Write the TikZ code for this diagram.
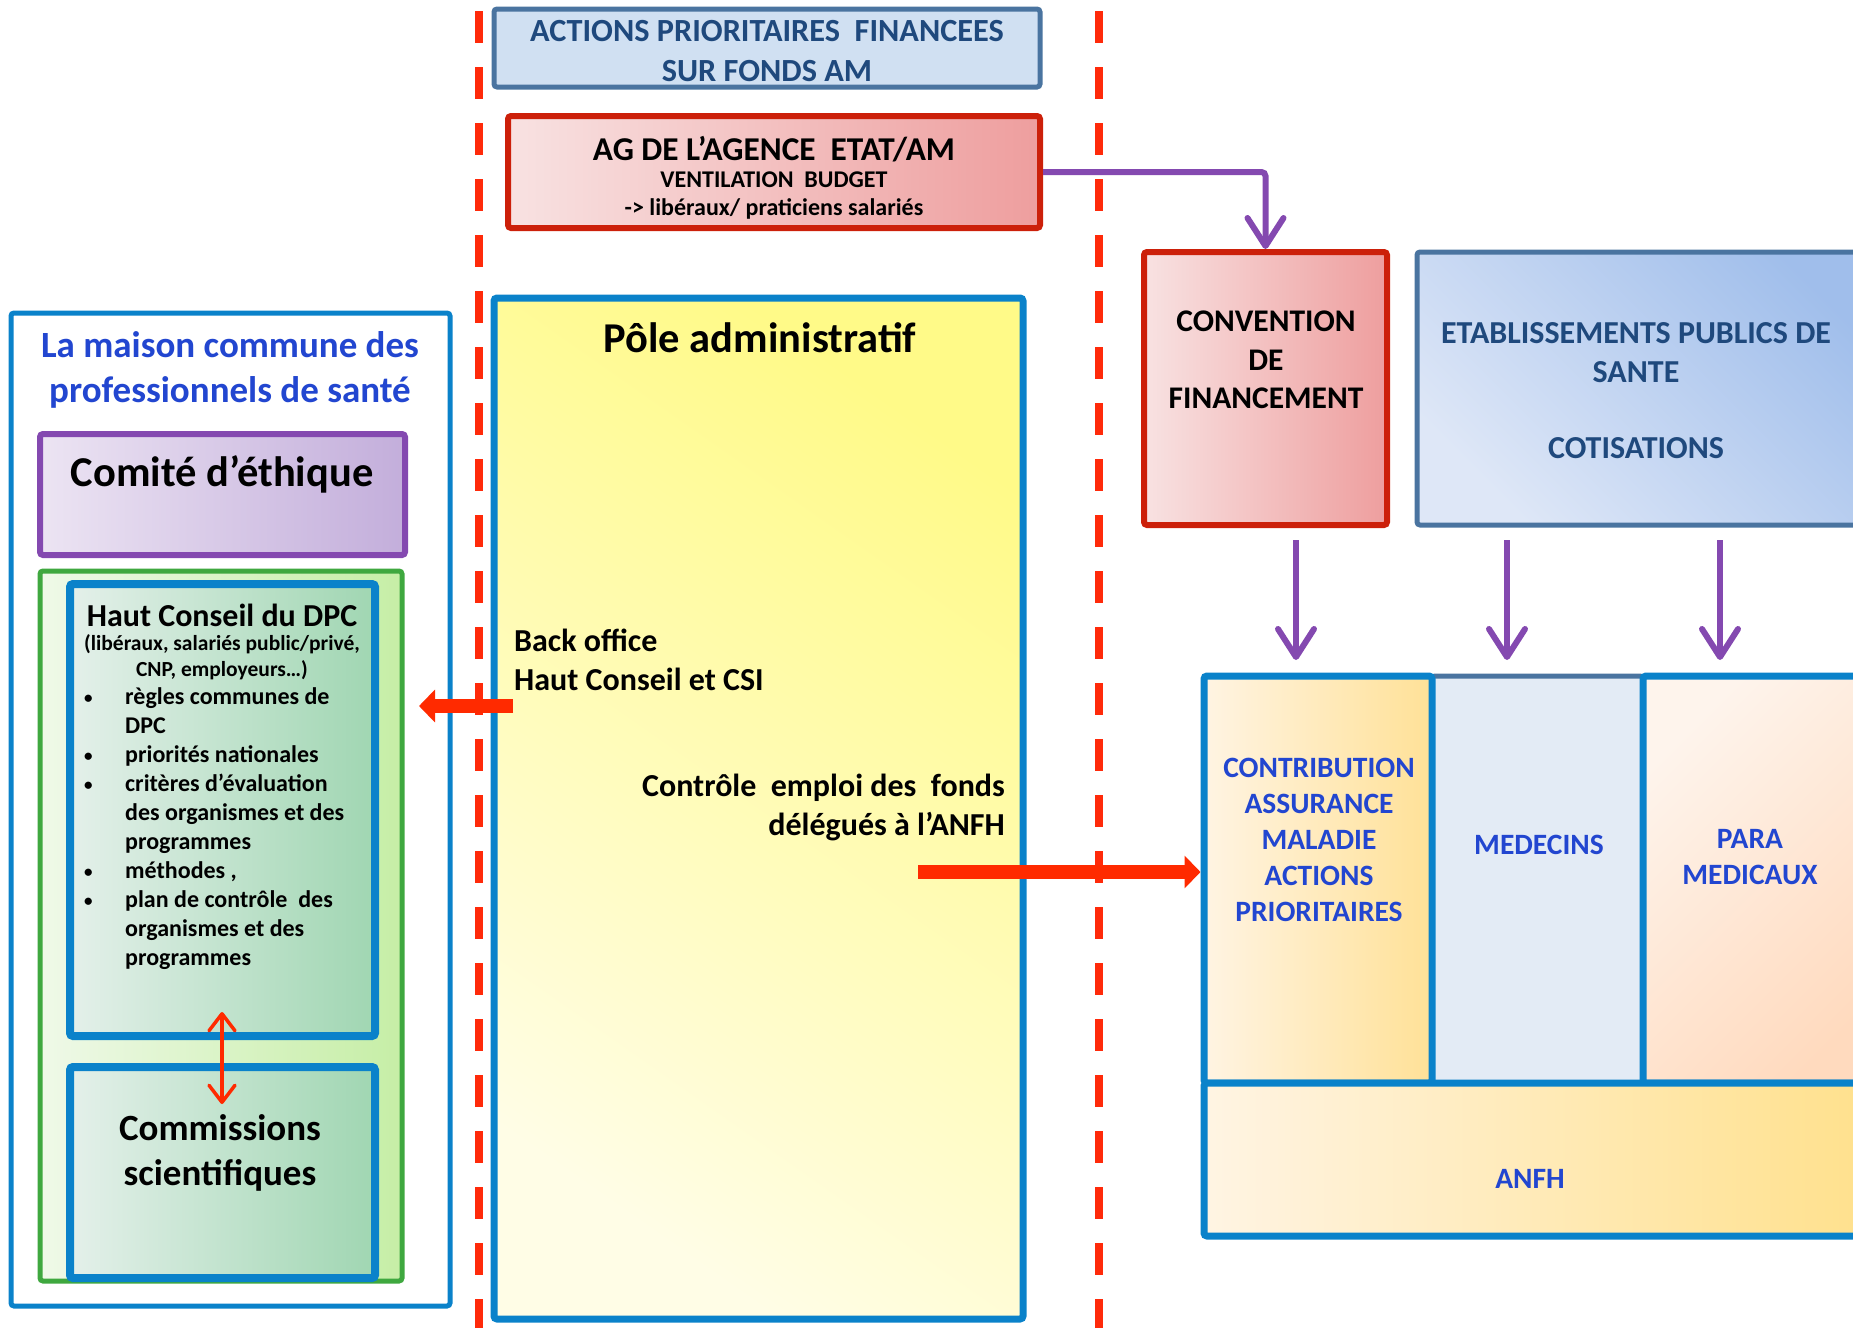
\documentclass[tikz,border=0pt]{standalone}
\usepackage{fontspec}
\setmainfont{Carlito}
\usetikzlibrary{arrows.meta,fit}
\definecolor{cblue}{HTML}{0A82CA}
\definecolor{cdash}{HTML}{FF2A0A}
\definecolor{cred}{HTML}{CC200A}
\definecolor{carrow}{HTML}{FF2A00}
\definecolor{cpurple}{HTML}{8449B0}
\definecolor{csteel}{HTML}{4A74A0}
\definecolor{cgreen}{HTML}{3FA83F}
\definecolor{cnavy}{HTML}{1F497D}
\definecolor{cbright}{HTML}{2246D0}
\definecolor{redL}{HTML}{F8E2E2}
\definecolor{redR}{HTML}{EE9E9E}
\definecolor{purL}{HTML}{ECE4F3}
\definecolor{purR}{HTML}{C3AEDB}
\definecolor{grnL}{HTML}{EFF9E8}
\definecolor{grnR}{HTML}{C6EEA6}
\definecolor{hcL}{HTML}{E4F0EA}
\definecolor{hcR}{HTML}{A0D6B2}
\definecolor{actF}{HTML}{D0E0F2}
\definecolor{etabL}{HTML}{DEE7F7}
\definecolor{etabR}{HTML}{A0BEEB}
\definecolor{medF}{HTML}{E3EBF5}
\definecolor{conL}{HTML}{FFF4E3}
\definecolor{conR}{HTML}{FFE197}
\definecolor{paraL}{HTML}{FEF4EC}
\definecolor{paraR}{HTML}{FFDABE}
\definecolor{anfR}{HTML}{FFE08A}
\definecolor{polT}{HTML}{FFFA88}
\definecolor{polB}{HTML}{FFFDE6}
\begin{document}
\begin{tikzpicture}[x=1pt,y=-1pt,
  box/.style={draw, rounded corners=3pt, inner sep=0pt},
  bluebox/.style={box, draw=cblue, line width=7pt},
  redbox/.style={box, draw=cred, line width=6pt, left color=redL, right color=redR},
  steelbox/.style={box, draw=csteel, line width=5pt},
  greenbox/.style={box, draw=cblue, line width=8pt, left color=hcL, right color=hcR},
  txt/.style={inner sep=0pt, align=center},
  fs/.style={font=\pgfmathsetmacro\myLineSkipVal{1.22*#1}\fontsize{#1}{\myLineSkipVal}\selectfont\bfseries},
  dashline/.style={draw=cdash, line width=8pt, dash pattern=on 32pt off 24pt},
  purplearrow/.style={draw=cpurple, line width=6pt, -{Straight Barb[length=28pt,width=36pt,round]}},
  fatred/.style={draw=carrow, line width=14pt, -{Triangle[length=16pt,width=32pt]}},
  bul/.style={},
]
\useasboundingbox (0,0) rectangle (1853,1328);
\begin{scope}
\clip (0,0) rectangle (1853,1328);

% dashed separators
\coordinate (d1t) at (479,11);
\coordinate (d1b) at (479,1328);
\coordinate (d2t) at (1099,11);
\coordinate (d2b) at (1099,1328);
\path[dashline] (d1t) -- (d1b);
\path[dashline] (d2t) -- (d2b);

% left column
\node[box, draw=cblue, line width=5pt, fill=white, fit={(11,313) (450,1306)}] (maison) {};
\node[box, draw=cpurple, line width=6pt, left color=purL, right color=purR, fit={(40,434) (405,555)}] (comite) {};
\node[box, draw=cgreen, line width=5pt, left color=grnL, right color=grnR, fit={(40,571) (402,1281)}] (green) {};
\node[greenbox, fit={(70,584) (375,1036)}] (hc) {};
\node[greenbox, fit={(70,1067) (375,1278)}] (comm) {};

\node[txt, fs=37, text=cbright] (maisont) at (230,370) {La maison commune des\\professionnels de santé};
\node[txt, fs=42.5] (comitet) at (222,474) {Comité d’éthique};
\node[txt, fs=32] (hct) at (222,615) {Haut Conseil du DPC};
\node[txt, fs=21.5] (hcs) at (222,657) {(libéraux, salariés public/privé,\\CNP, employeurs…)};
\newcommand{\hcbul}{\makebox[41pt][l]{\raisebox{1pt}{\fontsize{17}{17}\selectfont•}}}
\node[inner sep=0pt, align=left, anchor=north west, font=\fontsize{24}{29}\selectfont\bfseries] (hcl) at (84,687)
 {\hcbul règles communes de\\
  \hspace*{41pt}DPC\\
  \hcbul priorités nationales\\
  \hcbul critères d’évaluation\\
  \hspace*{41pt}des organismes et des\\
  \hspace*{41pt}programmes\\
  \hcbul méthodes ,\\
  \hcbul plan de contrôle\ \ des\\
  \hspace*{41pt}organismes et des\\
  \hspace*{41pt}programmes};
\node[txt, fs=37] (commt) at (220,1153) {Commissions\\scientifiques};

% middle column
\node[box, draw=csteel, line width=5pt, fill=actF, fit={(494,9) (1040,87)}] (actions) {};
\node[txt, fs=32.3, text=cnavy] (actionst) at (767,51) {ACTIONS PRIORITAIRES\ \ FINANCEES\\SUR FONDS AM};
\node[redbox, fit={(508,116) (1040,228)}] (ag) {};
\node[txt, fs=33.3] (ag1) at (774,149) {AG DE L’AGENCE\ \ ETAT/AM};
\node[txt, fs=24] (ag2) at (774,180) {VENTILATION\ \ BUDGET};
\node[txt, fs=24] (ag3) at (774,209) {-> libéraux/ praticiens salariés};

\node[box, draw=cblue, line width=7pt, top color=polT, bottom color=polB, shading angle=-35, fit={(494,298) (1023,1319)}] (pole) {};
\node[txt, fs=42.5] (polet) at (760,338) {Pôle administratif};
\node[txt, fs=32, align=left, anchor=west] (backt) at (514,660) {Back office\\Haut Conseil et CSI};
\node[txt, fs=32, align=right, anchor=east] (controlet) at (1005,807) {Contrôle\ \ emploi des\ \ fonds\\délégués à l’ANFH};

% right column
\node[redbox, fit={(1144,252) (1387,525)}] (conv) {};
\node[txt, fs=31.5] (convt) at (1266,360) {CONVENTION\\DE\\FINANCEMENT};
\node[steelbox, top color=etabR, bottom color=etabL, shading angle=-45, fit={(1417,252) (1890,525)}] (etab) {};
\node[txt, fs=32, text=cnavy] (etab1) at (1636,353) {ETABLISSEMENTS PUBLICS DE\\SANTE};
\node[txt, fs=32, text=cnavy] (etab2) at (1636,448) {COTISATIONS};

\node[steelbox, fill=medF, fit={(1432,676) (1643,1083)}] (med) {};
\node[bluebox, left color=conL, right color=conR, fit={(1204,676) (1432,1083)}] (contr) {};
\node[bluebox, top color=paraL, bottom color=paraR, shading angle=45, fit={(1643,676) (1890,1083)}] (para) {};
\node[bluebox, left color=conL, right color=anfR, fit={(1204,1083) (1890,1236)}] (anfh) {};
\node[txt, fs=29.5, text=cbright] (contrt) at (1319,840) {CONTRIBUTION\\ASSURANCE\\MALADIE\\ACTIONS\\PRIORITAIRES};
\node[txt, fs=29.5, text=cbright] (medt) at (1539,845) {MEDECINS};
\node[txt, fs=29.5, text=cbright] (parat) at (1750,857) {PARA\\MEDICAUX};
\node[txt, fs=29.5, text=cbright] (anfht) at (1530,1179) {ANFH};

% connectors
\draw[purplearrow, rounded corners=4pt] (ag.east) -| (conv.north);
\coordinate (p1s) at (1296,540); \coordinate (p1e) at (1296,660);
\coordinate (p2s) at (1507,540); \coordinate (p2e) at (1507,660);
\coordinate (p3s) at (1720,540); \coordinate (p3e) at (1720,660);
\draw[purplearrow] (p1s) -- (p1e);
\draw[purplearrow] (p2s) -- (p2e);
\draw[purplearrow] (p3s) -- (p3e);

\coordinate (bos) at (513,706);
\coordinate (boe) at (419,706);
\draw[fatred] (bos) -- (boe);
\coordinate (cts) at (918,872);
\draw[fatred] (cts) -- (contr.west |- cts);

\coordinate (hcc) at (222,1012);
\coordinate (cmc) at (222,1104);
\draw[draw=carrow, line width=3.5pt, {Straight Barb[length=17pt,width=26pt,round]}-{Straight Barb[length=17pt,width=26pt,round]}] (hcc) -- (cmc);
\end{scope}
\end{tikzpicture}
\end{document}
